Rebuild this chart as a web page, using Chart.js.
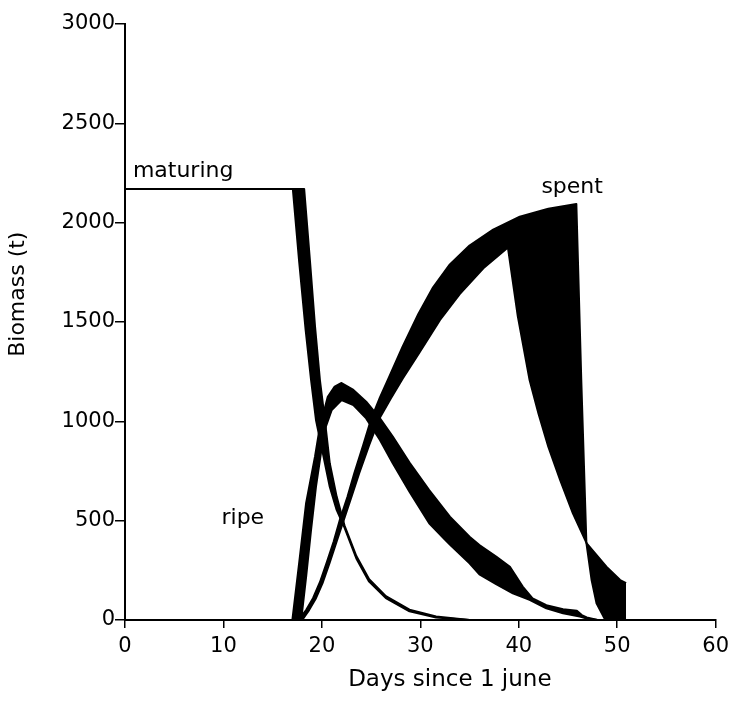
<!DOCTYPE html>
<html><head><meta charset="utf-8">
<script src="https://cdn.jsdelivr.net/npm/chart.js@4/dist/chart.umd.min.js"></script>
<style>html,body{margin:0;padding:0;background:#fff}#wrap{width:735px;height:719px;position:relative}</style>
</head><body><div id="wrap"><canvas id="c"></canvas></div>
<script>
// ---- data (days since 1 June, biomass in t) ----
const xTickValues = [0, 10, 20, 30, 40, 50, 60];
const yTickValues = [0, 500, 1000, 1500, 2000, 2500, 3000];

// maturing: lower and upper edge of band
const maturingLowDays = [0, 17.05, 17.7, 18.35, 18.9, 19.4, 20.1, 20.8, 21.5, 22.3, 23.5, 24.8, 26.5, 28.9, 31.6, 35];
const maturingLowT    = [2170, 2170, 1800, 1460, 1208, 1007, 839, 671, 554, 465, 310, 193, 110, 44, 12, 0];
const maturingHighDays = [0, 18.2, 18.8, 19.3, 19.8, 20.3, 20.8, 21.5, 22.3, 23.5, 24.8, 26.5, 28.9, 31.6, 35];
const maturingHighT    = [2170, 2170, 1800, 1480, 1208, 1007, 789, 621, 475, 322, 205, 120, 52, 18, 0];

// ripe
const ripeHighDays = [17.0, 17.7, 18.4, 19.3, 19.8, 20.6, 21.3, 22.0, 23.2, 24.5, 25.9, 27.2, 28.9, 30.9, 33.0, 35.0, 36.0, 37.7, 39.1, 40.4, 41.4, 42.8, 44.5, 45.9, 46.4, 46.9, 48.0];
const ripeHighT    = [0, 290, 589, 822, 973, 1124, 1175, 1193, 1158, 1099, 1015, 923, 793, 654, 520, 419, 377, 319, 268, 168, 109, 75, 54, 47, 25, 13, 0];
const ripeLowDays = [17.0, 17.9, 18.4, 18.9, 19.4, 19.9, 20.4, 21.0, 22.0, 23.2, 24.5, 25.9, 27.2, 28.9, 30.9, 32.3, 33.0, 35.0, 36.0, 37.7, 39.4, 41.1, 42.8, 44.5, 46.2, 46.9, 48.0];
const ripeLowT    = [0, 0, 218, 453, 671, 839, 973, 1057, 1107, 1082, 1015, 906, 789, 646, 487, 415, 380, 285, 230, 180, 134, 101, 59, 34, 17, 8, 0];

// spent
const spentLowDays = [17.6, 18.0, 18.7, 19.4, 20.1, 20.8, 21.5, 22.2, 23.0, 23.8, 24.8, 25.8, 27.0, 28.2, 29.9, 32.0, 34.0, 36.4, 38.9, 39.9, 41.1, 42.0, 43.0, 44.2, 45.5, 46.9, 48.9, 50.3, 50.9];
const spentLowT    = [0, 0, 50, 110, 190, 290, 395, 500, 620, 740, 880, 1010, 1115, 1215, 1345, 1510, 1640, 1770, 1875, 1530, 1208, 1040, 872, 705, 537, 386, 268, 201, 185];
const spentHighDays = [17.6, 18.4, 19.1, 19.8, 20.5, 21.2, 21.8, 22.6, 23.3, 24.2, 25.0, 25.9, 26.7, 28.2, 29.8, 31.3, 33.0, 35.0, 37.4, 40.1, 43.0, 45.85, 46.35, 46.87, 47.4, 47.9, 48.7, 49.2, 50.9];
const spentHighT    = [0, 50, 110, 190, 290, 395, 500, 620, 740, 880, 1010, 1120, 1208, 1376, 1540, 1675, 1790, 1885, 1965, 2030, 2070, 2094, 1208, 388, 201, 84, 8, 0, 0];

const curveLabels = ['maturing', 'spent', 'ripe'];
const curveLabelDays = [0.8, 42.3, 9.8];
const curveLabelT = [2231, 2147, 483];

const xTitle = 'Days since 1 june';
const yTitle = 'Biomass (t)';

// ---- build ----
const pts = (xs, ys) => xs.map((x, i) => ({x: x, y: ys[i]}));
const INK = '#000';
function edge(label, xs, ys, fill) {
  return {
    label: label, data: pts(xs, ys), borderColor: INK, backgroundColor: INK,
    borderWidth: 2, pointRadius: 0, tension: 0, fill: fill, borderJoinStyle: 'round'
  };
}

const labelPlugin = {
  id: 'curveLabels',
  afterDatasetsDraw(chart) {
    const {ctx, scales} = chart;
    ctx.save();
    ctx.fillStyle = INK;
    ctx.font = '22px "DejaVu Sans"';
    ctx.textAlign = 'left';
    ctx.textBaseline = 'alphabetic';
    curveLabels.forEach((t, i) => {
      ctx.fillText(t, scales.x.getPixelForValue(curveLabelDays[i]), scales.y.getPixelForValue(curveLabelT[i]));
    });
    // axis titles
    ctx.textAlign = 'center';
    ctx.textBaseline = 'middle';
    ctx.font = '23px "DejaVu Sans"';
    ctx.fillText(xTitle, scales.x.getPixelForValue(33), chart.height - 39);
    ctx.translate(18, scales.y.getPixelForValue(1640));
    ctx.rotate(-Math.PI / 2);
    ctx.font = '22px "DejaVu Sans"';
    ctx.fillText(yTitle, 0, 0);
    ctx.restore();
  }
};

Chart.defaults.font.family = '"DejaVu Sans"';
Chart.defaults.font.size = 21;
Chart.defaults.color = INK;

new Chart(document.getElementById('c'), {
  type: 'line',
  data: {
    datasets: [
      edge('maturing low', maturingLowDays, maturingLowT, false),
      edge('maturing high', maturingHighDays, maturingHighT, '-1'),
      edge('ripe low', ripeLowDays, ripeLowT, false),
      edge('ripe high', ripeHighDays, ripeHighT, '-1'),
      edge('spent low', spentLowDays, spentLowT, false),
      edge('spent high', spentHighDays, spentHighT, '-1')
    ]
  },
  options: {
    responsive: true,
    maintainAspectRatio: false,
    animation: false,
    layout: {padding: {left: 0, right: 19, top: 24, bottom: 0}},
    plugins: {legend: {display: false}, tooltip: {enabled: false}},
    scales: {
      x: {
        type: 'linear', min: 0, max: 60,
        afterBuildTicks: s => { s.ticks = xTickValues.map(v => ({value: v})); },
        afterFit: s => { s.height = 99; },
        grid: {drawOnChartArea: false, drawTicks: true, tickLength: 8, color: INK, lineWidth: 1.5},
        border: {display: true, color: INK, width: 2},
        ticks: {padding: 6, font: {size: 21}, maxRotation: 0, callback: v => String(v)},
        title: {display: false}
      },
      y: {
        type: 'linear', min: 0, max: 3000,
        afterBuildTicks: s => { s.ticks = yTickValues.map(v => ({value: v})); },
        afterFit: s => { s.width = 125; },
        grid: {drawOnChartArea: false, drawTicks: true, tickLength: 10, color: INK, lineWidth: 1.5},
        border: {display: true, color: INK, width: 2},
        ticks: {padding: 0, font: {size: 21}, callback: v => String(v)},
        title: {display: false}
      }
    }
  },
  plugins: [labelPlugin]
});
</script>
</body></html>
